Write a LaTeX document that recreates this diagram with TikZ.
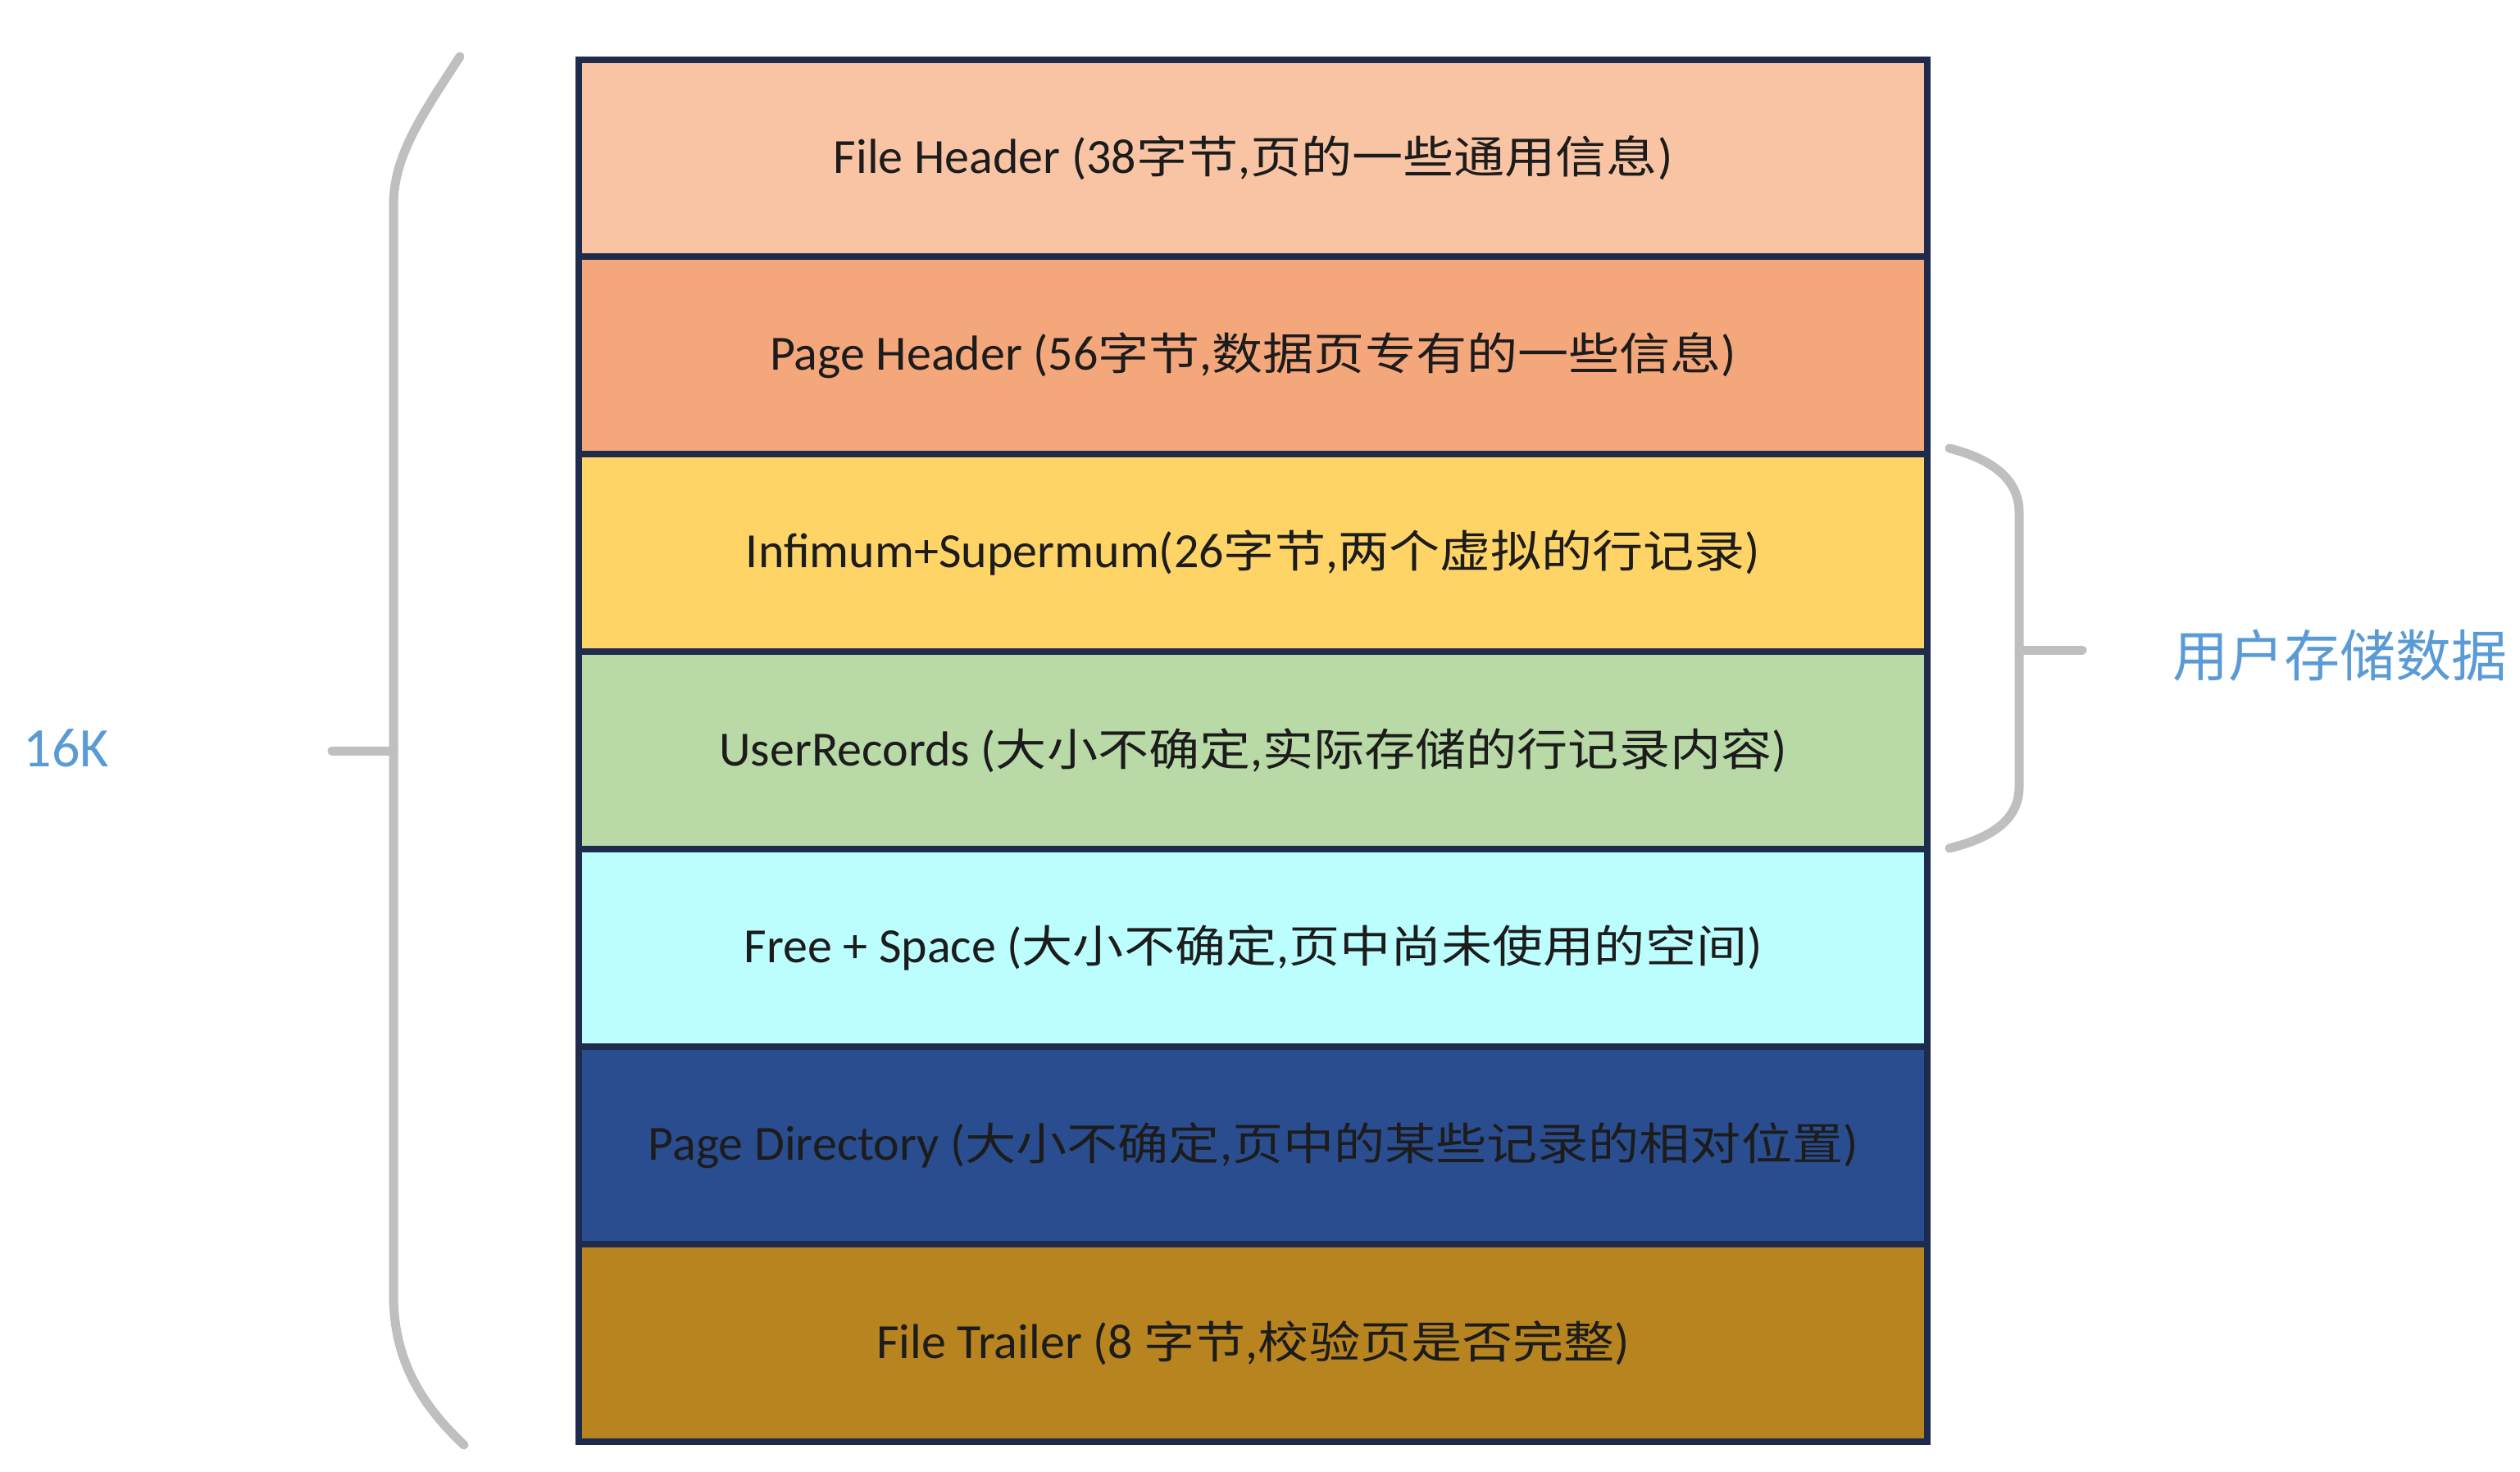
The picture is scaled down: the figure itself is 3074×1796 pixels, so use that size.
\documentclass[tikz,border=0pt]{standalone}
\usepackage{fontspec}
\setmainfont{Carlito}
\newfontfamily\cjk[FakeStretch=1.15]{Noto Sans CJK SC}
\newfontfamily\cjkplain{Noto Sans CJK SC}
% Chinese runs inside the Latin labels
\newcommand\zh[1]{{\cjk\fontsize{54pt}{60pt}\selectfont #1}}

\definecolor{edgenavy}{HTML}{1E2B4D}
\definecolor{txtdark}{HTML}{1C1C1C}
\definecolor{bracegray}{HTML}{BFBFBF}
\definecolor{labelblue}{HTML}{5B9BD5}
\definecolor{cFH}{HTML}{F8C4A4}
\definecolor{cPH}{HTML}{F5A77C}
\definecolor{cIS}{HTML}{FFD466}
\definecolor{cUR}{HTML}{B9D9A7}
\definecolor{cFS}{HTML}{BBFEFD}
\definecolor{cPD}{HTML}{2A4D8F}
\definecolor{cFT}{HTML}{B8841F}

\tikzset{
  rowbox/.style={draw=edgenavy, line width=8pt, rectangle, inner sep=0pt,
    minimum width=1645pt, minimum height=240.9pt, text=txtdark,
    font=\fontsize{60pt}{66pt}\selectfont},
  bracket/.style={draw=bracegray, line width=11pt, line cap=round},
  sidelabel/.style={text=labelblue, inner sep=0pt},
}

\begin{document}
\begin{tikzpicture}[x=1pt, y=-1pt]
  \fill[white] (0,0) rectangle (3074,1796);
  \useasboundingbox (0,0) rectangle (3074,1796);

  % the seven parts of a 16K data page, top to bottom
  \node[rowbox, fill=cFH] (fh) at (1528.5,192.95)
    {File Header (38\zh{字节},\zh{页的一些通用信息})};
  \node[rowbox, fill=cPH] (ph) at (1528.5,433.85)
    {Page Header (56\zh{字节},\zh{数据页专有的一些信息})};
  \node[rowbox, fill=cIS] (is) at (1528.5,674.75)
    {Infimum+Supermum(26\zh{字节},\zh{两个虚拟的行记录})};
  \node[rowbox, fill=cUR] (ur) at (1528.5,915.65)
    {UserRecords (\zh{大小不确定},\zh{实际存储的行记录内容})};
  \node[rowbox, fill=cFS] (fs) at (1528.5,1156.55)
    {Free + Space (\zh{大小不确定},\zh{页中尚未使用的空间})};
  \node[rowbox, fill=cPD] (pd) at (1528.5,1397.45)
    {Page Directory (\zh{大小不确定},\zh{页中的某些记录的相对位置})};
  \node[rowbox, fill=cFT] (ft) at (1528.5,1638.35)
    {File Trailer (8 \zh{字节},\zh{校验页是否完整})};

  % left brace spanning the whole page
  \coordinate (lTop) at (561,69);
  \coordinate (lBot) at (566,1763);
  \coordinate (lMid) at (480,916);
  \coordinate (lTick) at (405,916);
  \draw[bracket] (lTop) .. controls (515,140) and (480,190) .. (480,250)
    -- (480,1580) .. controls (480,1660) and (515,1715) .. (lBot);
  \draw[bracket] (lMid) -- (lTick);
  \node[sidelabel, font=\fontsize{68pt}{72pt}\selectfont] (k16) at (81,913) {16K};

  % right brace over the user-data rows
  \coordinate (rTop) at (2378,547);
  \coordinate (rBot) at (2378,1035);
  \coordinate (rMid) at (2463,793);
  \coordinate (rTick) at (2540,793);
  \draw[bracket] (rTop) .. controls (2430,560) and (2463,585) .. (2463,625)
    -- (2463,960) .. controls (2463,1000) and (2430,1022) .. (rBot);
  \draw[bracket] (rMid) -- (rTick);
  \node[sidelabel, font=\cjkplain\fontsize{68pt}{72pt}\selectfont] (usr) at (2854,800) {用户存储数据};
\end{tikzpicture}
\end{document}
